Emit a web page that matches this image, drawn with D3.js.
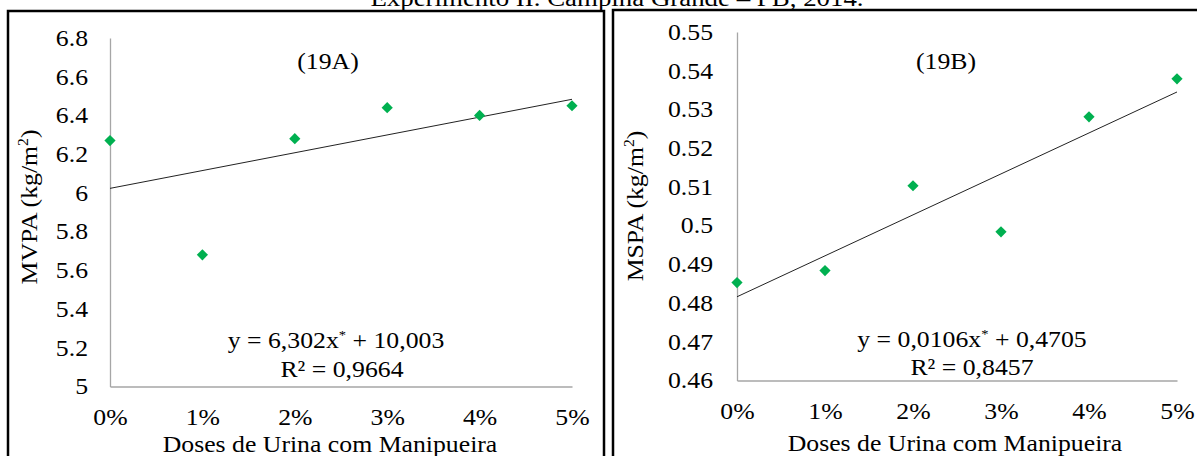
<!DOCTYPE html>
<html><head><meta charset="utf-8">
<script src="https://cdn.jsdelivr.net/npm/d3@7"></script>
<style>
html,body{margin:0;padding:0;background:#fff;}
svg, svg text{font-family:"Times New Roman","Liberation Serif","DejaVu Serif",serif !important;}
</style></head>
<body><svg id="c" width="1197" height="456"></svg>
<script>
const categories = ["0%","1%","2%","3%","4%","5%"];
const doses = [0,1,2,3,4,5];
const mvpaValues = [6.27, 5.68, 6.28, 6.44, 6.40, 6.45];
const mspaValues = [0.4853, 0.4884, 0.5103, 0.4984, 0.5281, 0.5379];
const yTicksA = [5,5.2,5.4,5.6,5.8,6,6.2,6.4,6.6,6.8];
const yTicksB = [0.46,0.47,0.48,0.49,0.5,0.51,0.52,0.53,0.54,0.55];
const labelA = "(19A)", labelB = "(19B)";
const eqA = ["y = 6,302x", " + 10,003"], r2A = "R² = 0,9664";
const eqB = ["y = 0,0106x", " + 0,4705"], r2B = "R² = 0,8457";
const titleText = "Experimento II. Campina Grande – PB, 2014.";
const xTitle = "Doses de Urina com Manipueira";

const K = 1.12; // horizontal stretch of the reference text
const svg = d3.select("#c");

function stretch(sel){
  sel.each(function(){
    const t = d3.select(this);
    const prev = t.attr("transform");
    if(prev){ t.attr("transform", prev+` scale(${K},1)`); return; }
    const x = +t.attr("x")||0, y = +t.attr("y")||0;
    t.attr("transform",`translate(${x},${y}) scale(${K},1) translate(${-x},${-y})`);
  });
}

svg.append("text").attr("x",617).attr("y",6).attr("text-anchor","middle")
  .attr("font-size",24).text(titleText);

svg.append("rect").attr("x",8).attr("y",11).attr("width",596).attr("height",460)
  .attr("fill","#fff").attr("stroke","#000").attr("stroke-width",2.5);
svg.append("rect").attr("x",613).attr("y",10).attr("width",600).attr("height",460)
  .attr("fill","#fff").attr("stroke","#000").attr("stroke-width",2.5);

function linfit(xs, ys){
  const n=xs.length, mx=d3.mean(xs), my=d3.mean(ys);
  let sxy=0,sxx=0;
  for(let i=0;i<n;i++){sxy+=(xs[i]-mx)*(ys[i]-my);sxx+=(xs[i]-mx)**2;}
  const b=sxy/sxx; return {a:my-b*mx,b};
}

function panel(o){
  const x = d3.scaleLinear().domain([0,5]).range([o.x0,o.x1]);
  const y = d3.scaleLinear().domain(o.ydom).range([o.y0,o.y1]);
  const g = svg.append("g");
  const ya = g.append("g").attr("transform",`translate(${o.x0},0)`)
    .call(d3.axisLeft(y).tickValues(o.yticks).tickSize(0).tickPadding(o.tpad).tickFormat(d=>String(d)));
  ya.attr("font-family",null);
  ya.select(".domain").attr("stroke","#a6a6a6").attr("stroke-width",1.3);
  ya.selectAll("text").attr("font-size",23).attr("fill","#000");
  const xa = g.append("g").attr("transform",`translate(0,${o.y0})`)
    .call(d3.axisBottom(x).tickValues(doses).tickSize(0).tickPadding(o.xpad).tickFormat((d,i)=>categories[i]));
  xa.attr("font-family",null);
  xa.select(".domain").attr("stroke","#a6a6a6").attr("stroke-width",1.3);
  xa.selectAll("text").attr("font-size",23).attr("fill","#000");
  const f = linfit(doses,o.vals);
  g.append("line").attr("x1",x(0)).attr("y1",y(f.a)).attr("x2",x(5)).attr("y2",y(f.a+5*f.b))
    .attr("stroke","#222").attr("stroke-width",1);
  g.selectAll("path.pt").data(o.vals).join("path").attr("class","pt")
    .attr("d",d3.symbol(d3.symbolDiamond2,80)())
    .attr("transform",(d,i)=>`translate(${x(doses[i])},${y(d)})`)
    .attr("fill","#00b050");
  g.append("text").attr("x",o.tx).attr("y",o.ty).attr("text-anchor","middle")
    .attr("font-size",23).text(xTitle);
  const yt = g.append("text").attr("transform",`translate(${o.ytx},${o.yty}) rotate(-90)`)
    .attr("text-anchor","middle").attr("font-size",23);
  yt.append("tspan").text(o.yname+" (kg/m");
  yt.append("tspan").attr("font-size",14).attr("dy",-9).text("2");
  yt.append("tspan").attr("dy",9).text(")");
  g.append("text").attr("x",o.lx).attr("y",o.ly).attr("text-anchor","middle").attr("font-size",23).text(o.label);
  const eq = g.append("text").attr("x",o.ex).attr("y",o.ey).attr("text-anchor","middle").attr("font-size",23);
  eq.append("tspan").text(o.eq[0]);
  eq.append("tspan").attr("font-size",13).attr("dy",-9).text("*");
  eq.append("tspan").attr("dy",9).text(o.eq[1]);
  g.append("text").attr("x",o.rx).attr("y",o.ry).attr("text-anchor","middle").attr("font-size",23).text(o.r2);
}

panel({x0:110,x1:572,y0:386.5,y1:38,ydom:[5,6.8],yticks:yTicksA,tpad:22,xpad:22,
  vals:mvpaValues,tx:330,ty:452,ytx:37,yty:207,yname:"MVPA",label:labelA,lx:328,ly:69,
  eq:eqA,r2:r2A,ex:336,ey:348,rx:342,ry:377});
panel({x0:737,x1:1177,y0:380.5,y1:32,ydom:[0.46,0.55],yticks:yTicksB,tpad:24,xpad:22,
  vals:mspaValues,tx:955,ty:451,ytx:643,yty:206,yname:"MSPA",label:labelB,lx:946,ly:69,
  eq:eqB,r2:r2B,ex:972,ey:347,rx:972,ry:375});

stretch(svg.selectAll("text"));
</script></body></html>
